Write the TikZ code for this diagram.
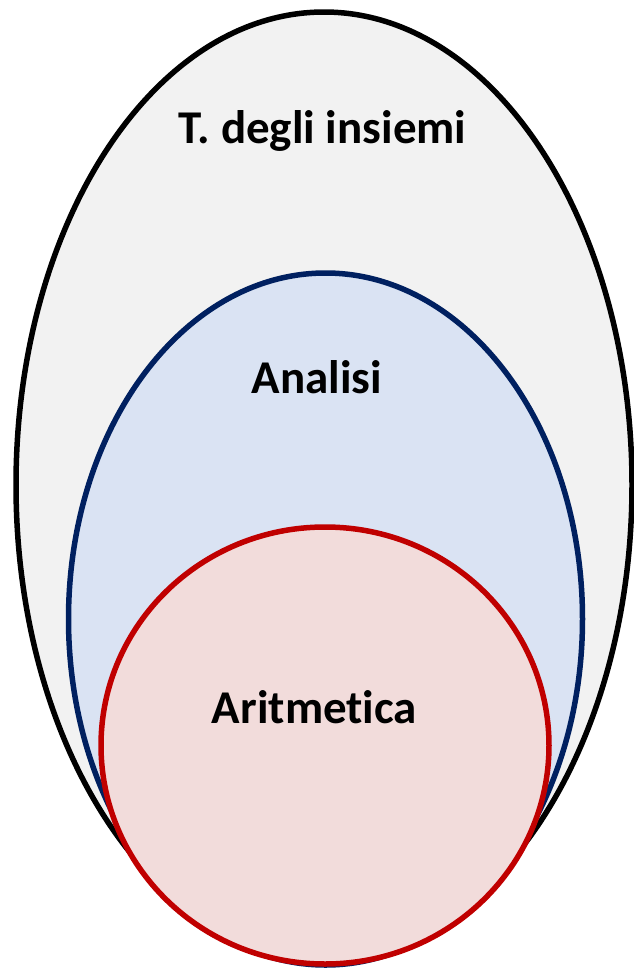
\documentclass[tikz,border=0pt]{standalone}
\usepackage{fontspec}
\setmainfont{Carlito}[Ligatures=NoCommon]
\usetikzlibrary{
  positioning,
  shapes.geometric
}
\definecolor{insiemi}{HTML}{F2F2F2}
\definecolor{analisi}{HTML}{002060}
\definecolor{analisifill}{HTML}{DAE3F3}
\definecolor{aritm}{HTML}{C00000}
\definecolor{aritmfill}{HTML}{F2DCDB}

\begin{document}
\begin{tikzpicture}[
  x=1pt, y=-1pt,
  set/.style={draw, ellipse, line width=5.5pt, inner sep=0pt},
  label/.style={anchor=base, font=\fontsize{47}{56}\selectfont\bfseries}
]
  \useasboundingbox (0,0) rectangle (634,970);

  \node[set, fill=insiemi, minimum width=616pt, minimum height=946pt] (teoria) at (324, 485) {};
  \node[set, draw=analisi, fill=analisifill, minimum width=514pt, minimum height=692pt] (analisi) at (325.5, 619) {};
  \node[set, draw=aritm, fill=aritmfill, minimum width=448pt, minimum height=437pt] (aritmetica) at (325, 745.5) {};

  \node[label] (lteoria) at (322.5, 143) {T. degli insiemi};
  \node[label] (lanalisi) at (317, 393) {Analisi};
  \node[label] (laritmetica) at (314.5, 723) {Aritmetica};
\end{tikzpicture}
\end{document}
